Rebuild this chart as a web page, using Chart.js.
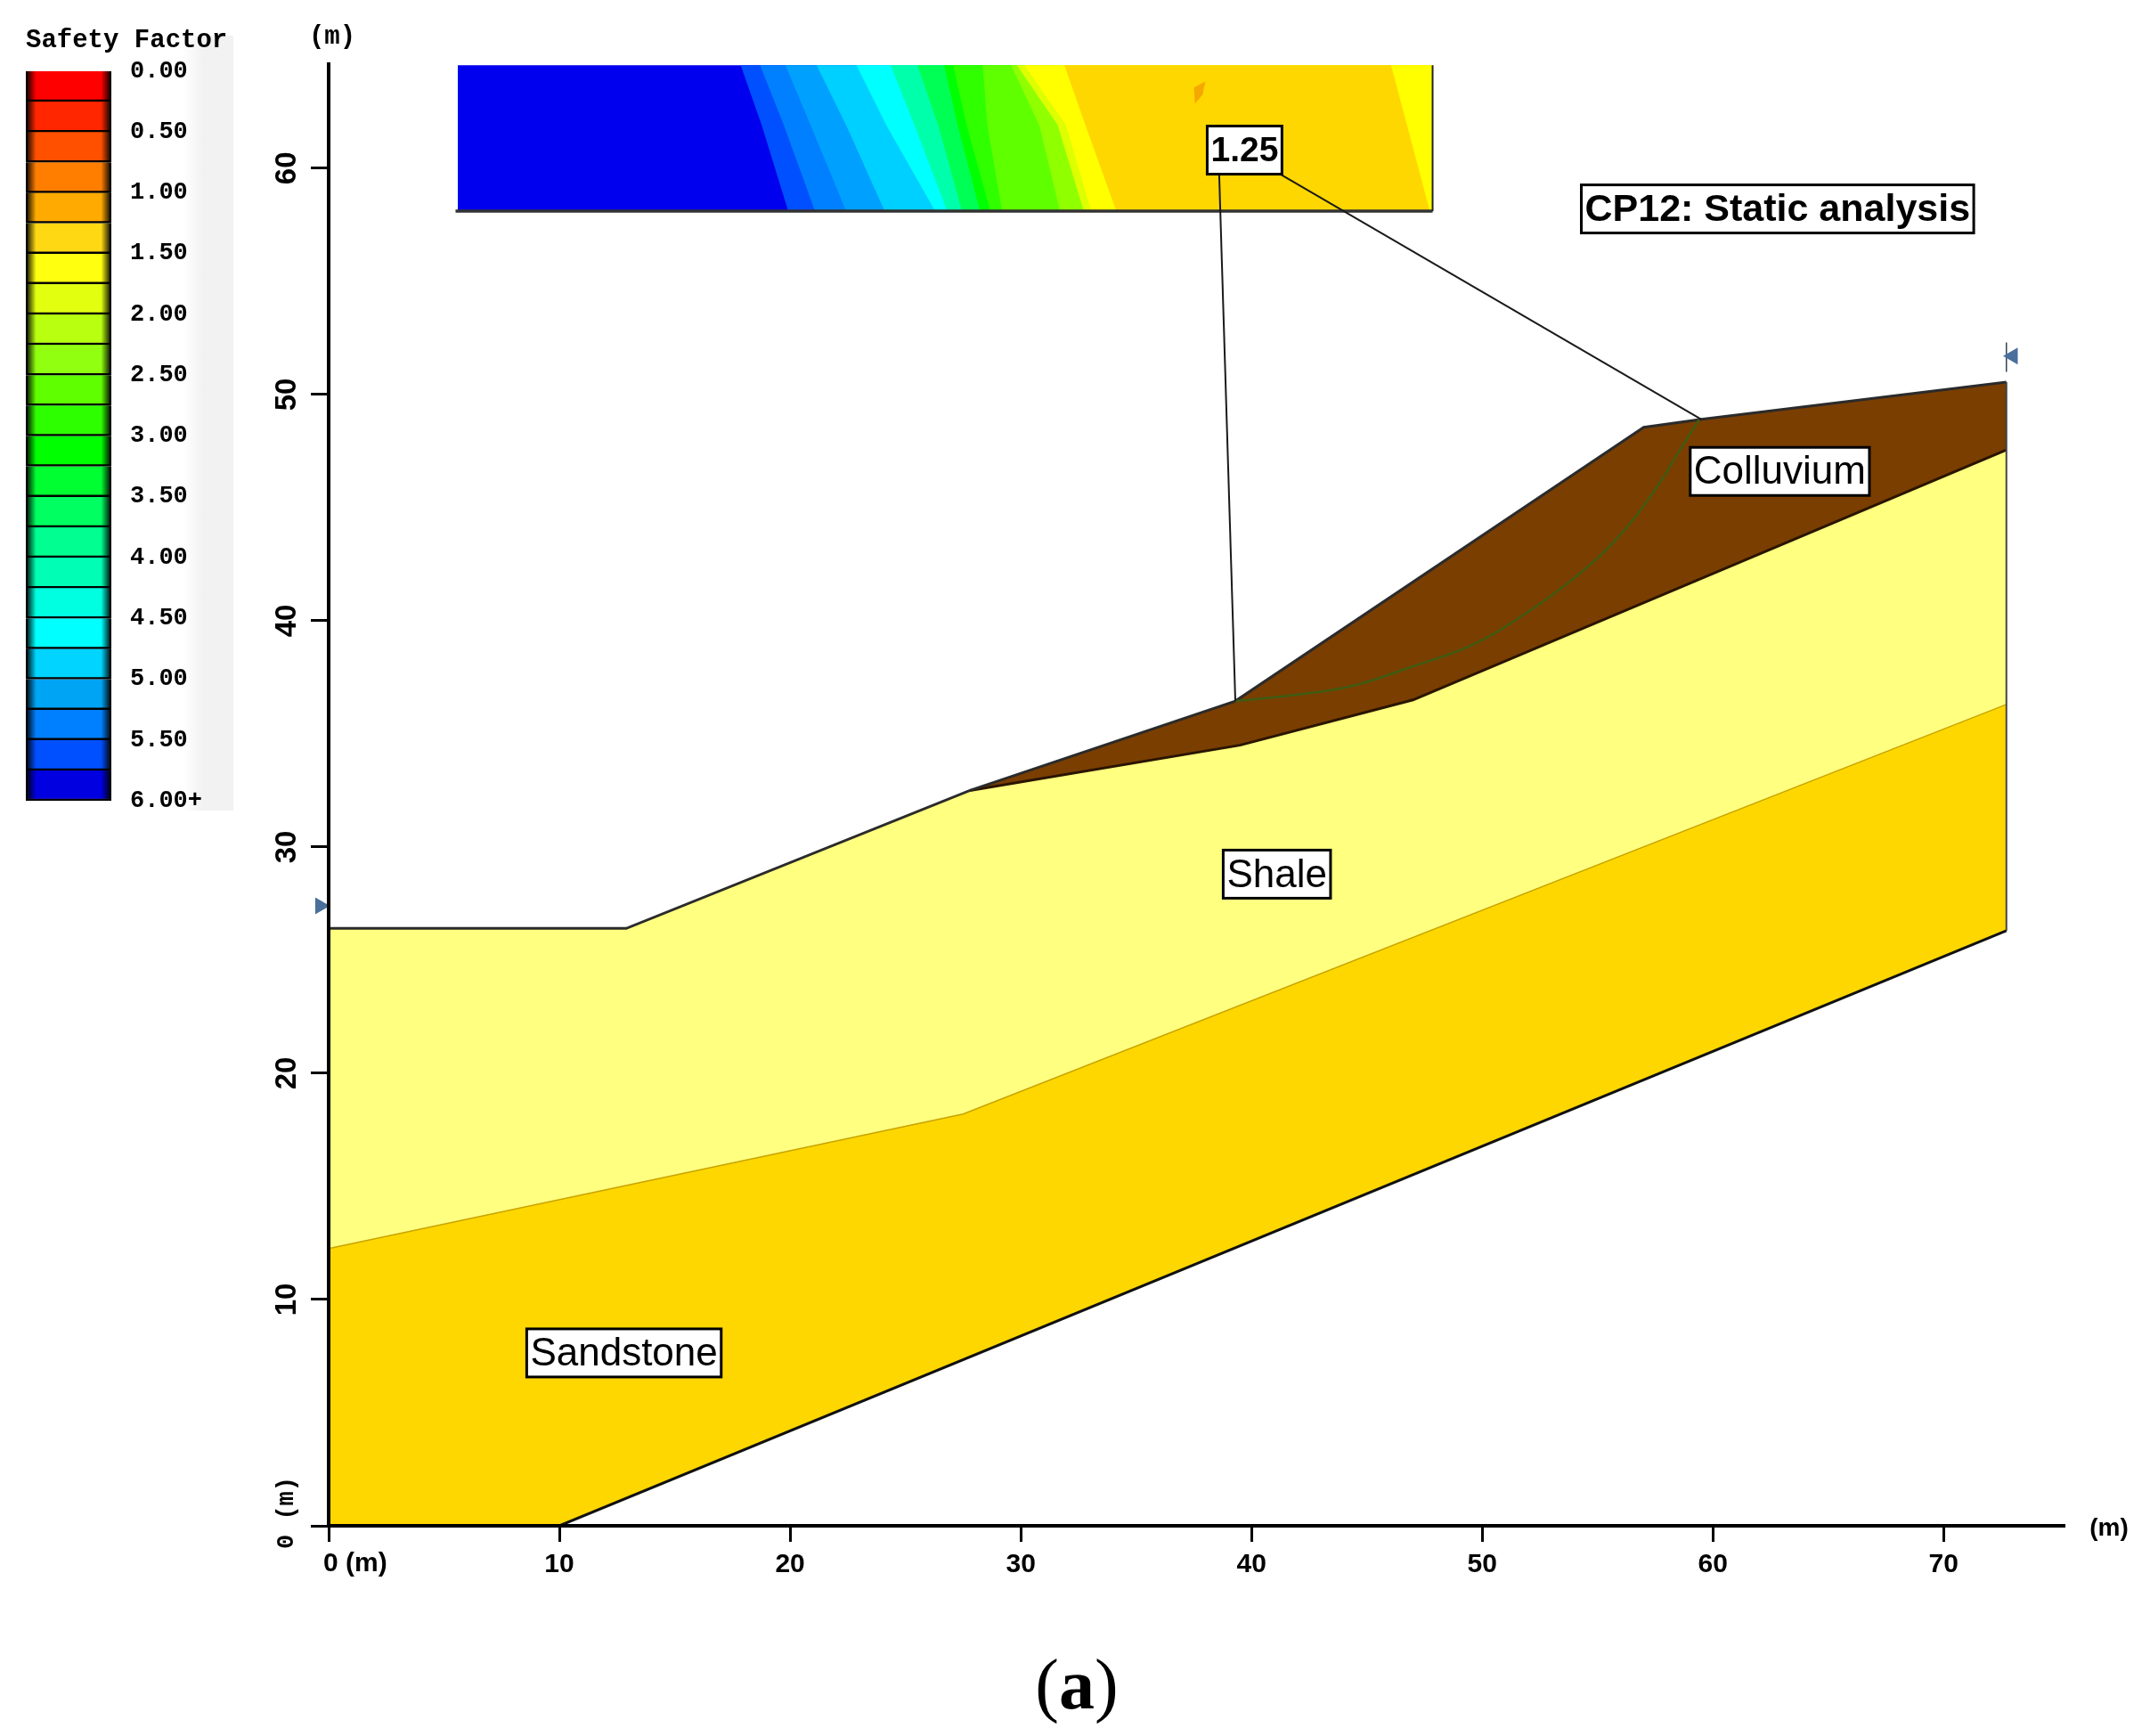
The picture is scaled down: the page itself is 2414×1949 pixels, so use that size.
<!DOCTYPE html>
<html>
<head>
<meta charset="utf-8">
<title>CP12 static analysis</title>
<script src="https://cdn.jsdelivr.net/npm/chart.js@4"></script>
<style>
  html, body { margin: 0; background: #fff; }
  #page { position: relative; width: 2414px; height: 1949px; overflow: hidden; }
  #main, #scale { position: absolute; left: 0; top: 0; }
  #scaleGlow { position: absolute; left: 205px; top: 40px; width: 57px; height: 870px; background: linear-gradient(to right, #fff, #f2f2f2 40%); }
  #caption { position: absolute; left: 1009px; width: 400px; top: 1846px; text-align: center; font: 80px "Liberation Serif"; color: #000; }
</style>
</head>
<body>
<div id="page">
  <div id="scaleGlow"></div>
  <canvas id="scale" width="290" height="960"></canvas>
  <canvas id="main" width="2414" height="1949"></canvas>
  <div id="caption">(<b>a</b>)</div>
</div>
<script>
// slope geometry, metres
const surfaceX = [0, 12.9, 27.8, 39.3, 57.0, 59.5, 72.72];
const surfaceY = [26.4, 26.4, 32.5, 36.45, 48.55, 48.9, 50.55];
const colluviumBaseX = [27.8, 39.5, 47.0, 72.72];
const colluviumBaseY = [32.5, 34.5, 36.5, 47.55];
const shaleBaseX = [0, 27.5, 72.72];
const shaleBaseY = [12.25, 18.2, 36.3];
const rockBaseX = [0, 10, 72.72];
const rockBaseY = [0, 0, 26.3];

// critical slip surface
const slipX = [39.3, 41.7, 44.3, 46.9, 49.5, 51.7, 54.0, 55.9, 57.5, 58.6, 59.4];
const slipY = [36.45, 36.7, 37.1, 37.95, 38.9, 40.2, 41.9, 43.7, 45.8, 47.6, 48.9];

// search grid contours, band edges at top / middle / bottom of the grid
const gridLeft = 5.6;
const gridRight = 47.85;
const gridTop = 64.55;
const gridMid = 61.9;
const gridBottom = 58.1;
const bandColors = ['#0050ff', '#0080ff', '#00a0ff', '#00d0ff', '#00ffff', '#00ffaa', '#00ff55', '#00ff00',
  '#30ff00', '#60ff00', '#90ff00', '#ddff00', '#ffff00', '#ffd700'];
const bandTopX = [17.86, 18.7, 19.8, 21.15, 22.88, 24.36, 25.52, 26.68, 27.07, 28.35, 29.58, 29.83, 30.16, 31.89];
const bandMidX = [18.77, 19.73, 20.89, 22.43, 24.17, 25.39, 26.42, 27.26, 27.65, 28.55, 30.8, 31.6, 31.96, 32.8];
const bandBottomX = [19.92, 21.08, 22.43, 24.1, 26.29, 26.81, 27.45, 28.23, 28.68, 29.19, 31.7, 32.73, 33.05, 34.14];
const wedgeX = [46.05, 47.85, 47.85, 47.73];
const wedgeY = [64.55, 64.55, 58.1, 58.1];
const blobX = [38.0, 37.5, 37.55, 37.88, 38.0];
const blobY = [63.83, 63.57, 62.85, 63.25, 63.83];

// leader lines from the 1.25 box
const leaderLeftX = [38.6, 39.3];
const leaderLeftY = [59.7, 36.45];
const leaderRightX = [41.3, 59.5];
const leaderRightY = [59.7, 48.9];

// boxed labels
const labelTexts = ['CP12: Static analysis', '1.25', 'Colluvium', 'Shale', 'Sandstone'];
const labelX = [62.8, 39.7, 62.9, 41.1, 12.8];
const labelY = [58.2, 60.8, 46.6, 28.8, 7.64];

// water table end markers and the small post above the right one
const markerX = [-0.37, 73.0];
const markerY = [27.4, 51.7];
const markerTurn = [90, -90];
const postX = [72.72, 72.72];
const postY = [51.0, 52.3];

const xTicks = [0, 10, 20, 30, 40, 50, 60, 70];
const yTicks = [0, 10, 20, 30, 40, 50, 60];

// colour scale
const cellSize = 0.25;
const cellColors = ['#ff0000', '#ff2600', '#ff5000', '#ff7e00', '#ffaa00', '#ffd814', '#ffff10', '#e2ff10',
  '#b8ff10', '#90ff10', '#60ff00', '#2eff00', '#00ff00', '#00ff30', '#00ff60', '#00ff90', '#00ffb4', '#00ffe0',
  '#00ffff', '#00d4ff', '#00a4f4', '#0080ff', '#0050ff', '#0000e0'];
const scaleLabels = ['0.00', '0.50', '1.00', '1.50', '2.00', '2.50', '3.00', '3.50', '4.00', '4.50', '5.00', '5.50', '6.00+'];

function points(xs, ys) {
  return xs.map((x, i) => ({ x: x, y: ys[i] }));
}

function area(xs, ys, color, order) {
  const data = points(xs, ys);
  data.push(data[0]);
  return { data: data, showLine: true, fill: 'shape', backgroundColor: color, borderWidth: 0, pointRadius: 0, order: order };
}

function line(xs, ys, color, width, order) {
  return { data: points(xs, ys), showLine: true, fill: false, borderColor: color, borderWidth: width, pointRadius: 0, order: order, clip: false };
}

const datasets = [];

// layers, back to front
datasets.push(area(
  [...rockBaseX, ...[...shaleBaseX].reverse()], [...rockBaseY, ...[...shaleBaseY].reverse()], '#ffd700', 90));
datasets.push(area(
  [...shaleBaseX, ...[...surfaceX].reverse()], [...shaleBaseY, ...[...surfaceY].reverse()], '#ffff80', 89));
datasets.push(area(
  [...colluviumBaseX, 72.72, 59.5, 57.0, 39.3, 27.8], [...colluviumBaseY, 50.55, 48.9, 48.55, 36.45, 32.5], '#7a3e00', 88));

datasets.push(line(shaleBaseX, shaleBaseY, '#c8a400', 1.5, 80));
datasets.push(line(colluviumBaseX, colluviumBaseY, '#2a1500', 3, 79));
datasets.push(line(rockBaseX, rockBaseY, '#111111', 3, 78));
datasets.push(line(surfaceX, surfaceY, '#2b2b2b', 3, 77));
datasets.push(line([72.72, 72.72], [26.3, 50.55], '#444444', 2, 76));

const slip = line(slipX, slipY, '#3f5c12', 2.5, 75);
slip.tension = 0.4;
datasets.push(slip);

// search grid
datasets.push(area([gridLeft, gridRight, gridRight, gridLeft], [gridTop, gridTop, gridBottom, gridBottom], '#0000ee', 70));
bandColors.forEach((color, i) => {
  datasets.push(area(
    [bandTopX[i], gridRight, gridRight, bandBottomX[i], bandMidX[i]],
    [gridTop, gridTop, gridBottom, gridBottom, gridMid],
    color, 69 - i));
});
datasets.push(area(wedgeX, wedgeY, '#ffff00', 50));
datasets.push(area(blobX, blobY, '#f5a800', 49));
datasets.push(line([gridLeft - 0.1, gridRight], [gridBottom, gridBottom], '#333333', 3.5, 48));
datasets.push(line([gridRight, gridRight], [gridBottom, gridTop], '#222222', 2, 47));

datasets.push(line(leaderLeftX, leaderLeftY, '#1a1a1a', 2, 40));
datasets.push(line(leaderRightX, leaderRightY, '#1a1a1a', 2, 39));
datasets.push(line(postX, postY, '#334455', 1.5, 38));
datasets.push({
  data: points(markerX, markerY), showLine: false, pointStyle: 'triangle', pointRadius: 11,
  pointRotation: markerTurn, backgroundColor: '#4a6f9a', borderWidth: 0, clip: false, order: 37
});

function boxFont(text) {
  if (text === '1.25') return 'bold 39px "Liberation Sans"';
  if (text.startsWith('CP12')) return 'bold 43px "Liberation Sans"';
  return '44px "Liberation Sans"';
}

const slopeText = {
  id: 'slopeText',
  afterDraw(chart) {
    const ctx = chart.ctx;
    const sx = chart.scales.x;
    const sy = chart.scales.y;
    ctx.save();
    ctx.fillStyle = '#000';
    ctx.textBaseline = 'middle';

    // rotated y tick labels
    ctx.font = 'bold 33px "Liberation Sans"';
    ctx.textAlign = 'center';
    yTicks.forEach(v => {
      if (v === 0) return;
      ctx.save();
      ctx.translate(323, sy.getPixelForValue(v));
      ctx.rotate(-Math.PI / 2);
      ctx.fillText(String(v), 0, 0);
      ctx.restore();
    });
    ctx.save();
    ctx.translate(322, sy.getPixelForValue(0) + 26);
    ctx.rotate(-Math.PI / 2);
    ctx.textAlign = 'left';
    ctx.font = 'bold 27px "Liberation Mono"';
    ctx.fillText('0 (m)', 0, 0);
    ctx.restore();

    // units and the zero label
    ctx.textAlign = 'left';
    ctx.font = 'bold 30px "Liberation Sans"';
    ctx.fillText('0 (m)', sx.getPixelForValue(0) - 6, 1756);
    ctx.textAlign = 'center';
    ctx.font = 'bold 28px "Liberation Sans"';
    ctx.fillText('(m)', 2368, 1716);
    ctx.font = 'bold 29px "Liberation Mono"';
    ctx.fillText('(m)', 373, 42);

    // boxed labels
    labelTexts.forEach((text, i) => {
      ctx.font = boxFont(text);
      const w = ctx.measureText(text).width + 8;
      const h = 54;
      const px = sx.getPixelForValue(labelX[i]);
      const py = sy.getPixelForValue(labelY[i]);
      ctx.fillStyle = '#fff';
      ctx.fillRect(px - w / 2, py - h / 2, w, h);
      ctx.strokeStyle = '#000';
      ctx.lineWidth = 3;
      ctx.strokeRect(px - w / 2, py - h / 2, w, h);
      ctx.fillStyle = '#000';
      ctx.textAlign = 'center';
      ctx.fillText(text, px, py + 2);
    });
    ctx.restore();
  }
};

new Chart(document.getElementById('main'), {
  type: 'scatter',
  data: { datasets: datasets },
  plugins: [slopeText],
  options: {
    responsive: false,
    animation: false,
    devicePixelRatio: 1,
    layout: { padding: { left: 349, right: 97, top: 72, bottom: 176 } },
    plugins: { legend: { display: false }, tooltip: { enabled: false } },
    scales: {
      x: {
        type: 'linear', min: 0, max: 75.2,
        afterFit(s) { s.height = 60; },
        afterBuildTicks(s) { s.ticks = xTicks.map(v => ({ value: v })); },
        border: { color: '#000', width: 4, z: 1 },
        grid: { drawOnChartArea: false, color: '#000', lineWidth: 3, tickLength: 18 },
        ticks: {
          color: '#000', padding: 8, maxRotation: 0, autoSkip: false,
          font: { family: 'Liberation Sans', size: 30, weight: 'bold' },
          callback: v => (v === 0 ? '' : String(v))
        }
      },
      y: {
        type: 'linear', min: 0, max: 64.6,
        afterFit(s) { s.width = 20; },
        afterBuildTicks(s) { s.ticks = yTicks.map(v => ({ value: v })); },
        border: { color: '#000', width: 4, z: 1 },
        grid: { drawOnChartArea: false, color: '#000', lineWidth: 3, tickLength: 20 },
        ticks: { display: false }
      }
    }
  }
});

// cells darken towards their left and right ends
function cellShade(context, color) {
  const box = context.chart.chartArea;
  if (!box) return color;
  const g = context.chart.ctx.createLinearGradient(box.left, 0, box.right, 0);
  g.addColorStop(0, '#000');
  g.addColorStop(0.12, color);
  g.addColorStop(0.88, color);
  g.addColorStop(1, '#000');
  return g;
}

new Chart(document.getElementById('scale'), {
  type: 'bar',
  data: {
    labels: [''],
    datasets: cellColors.map(color => ({
      data: [cellSize], backgroundColor: c => cellShade(c, color), borderColor: '#000', borderWidth: 2.5,
      barPercentage: 1, categoryPercentage: 1
    }))
  },
  options: {
    responsive: false,
    animation: false,
    devicePixelRatio: 1,
    layout: { padding: { left: 29, right: 0, top: 0, bottom: 61 } },
    plugins: {
      legend: { display: false },
      tooltip: { enabled: false },
      title: {
        display: true, text: 'Safety Factor', align: 'start', color: '#000',
        padding: { top: 28, bottom: 17 },
        font: { family: 'Liberation Mono', size: 29, weight: 'bold' }
      }
    },
    scales: {
      x: { stacked: true, display: false },
      y: {
        stacked: true, position: 'right', reverse: true, min: 0, max: 6,
        afterFit(s) { s.width = 165; },
        border: { display: false },
        grid: { display: false },
        ticks: {
          stepSize: 0.5, color: '#000', padding: 13,
          font: { family: 'Liberation Mono', size: 27, weight: 'bold' },
          callback: v => scaleLabels[Math.round(v / 0.5)]
        }
      }
    }
  }
});
</script>
</body>
</html>
